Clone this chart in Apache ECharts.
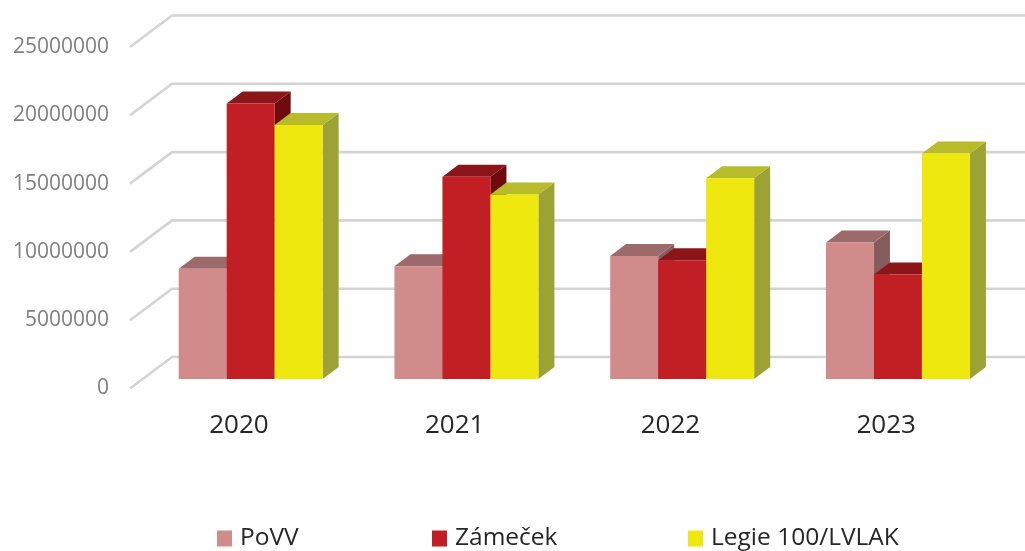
<!DOCTYPE html>
<html>
<head>
<meta charset="utf-8">
<style>
    html, body { margin: 0; padding: 0; background: #fff; }
    #main { width: 1025px; height: 551px; }
</style>
<script src="https://cdn.jsdelivr.net/npm/echarts@6/dist/echarts.min.js"></script>
</head>
<body>
<div id="main"></div>
<script>
var categories = ['2020', '2021', '2022', '2023'];
var povv = [8080000, 8250000, 9000000, 10000000];
var zamecek = [20170000, 14800000, 8700000, 7650000];
var legie = [18600000, 13500000, 14700000, 16500000];
var yTicks = [0, 5000000, 10000000, 15000000, 20000000, 25000000];

var chart = echarts.init(document.getElementById('main'));

// fake 3D: floor goes back by this much, bars stand part way in
var floorDepth = [42, -31.5];
var barInset = [11.8, -9.5];
var barDepth = [16, -12];
var barShare = 0.2224;

function quad(a, b, c, d, color) {
    return {
        type: 'polygon',
        shape: { points: [a, b, c, d] },
        style: { fill: color }
    };
}

function barItem(order, front, top, side) {
    return function (params, api) {
        var band = api.size([1, 0])[0];
        var w = band * barShare;
        var base = api.coord([api.value(0), 0]);
        var head = api.coord([api.value(0), api.value(1)]);
        var x0 = base[0] + barInset[0] + (order - 1.5) * w;
        var x1 = x0 + w;
        var y0 = base[1] + barInset[1];
        var y1 = head[1] + barInset[1];
        var dx = barDepth[0];
        var dy = barDepth[1];
        return {
            type: 'group',
            children: [
                quad([x1, y0], [x1 + dx, y0 + dy], [x1 + dx, y1 + dy], [x1, y1], side),
                quad([x0, y1], [x1, y1], [x1 + dx, y1 + dy], [x0 + dx, y1 + dy], top),
                quad([x0, y0], [x1, y0], [x1, y1], [x0, y1], front)
            ]
        };
    };
}

function gridItem(params, api) {
    var box = params.coordSys;
    var y = api.coord([0, api.value(1)])[1];
    return {
        type: 'polyline',
        shape: {
            points: [
                [box.x - 1, y],
                [box.x - 1 + floorDepth[0], y + floorDepth[1]],
                [box.x + box.width + floorDepth[0], y + floorDepth[1]]
            ]
        },
        style: { fill: null, stroke: '#d4d4d4', lineWidth: 2.6 }
    };
}

function toPairs(values) {
    return values.map(function (v, i) {
        return [i, v];
    });
}

function barSeries(name, values, order, front, top, side) {
    return {
        name: name,
        type: 'custom',
        renderItem: barItem(order, front, top, side),
        itemStyle: { color: front },
        encode: { x: 0, y: 1 },
        z: 3 + order,
        data: toPairs(values)
    };
}

function legendAt(name, left) {
    return {
        data: [name],
        left: left,
        top: 526,
        icon: 'rect',
        itemWidth: 15,
        itemHeight: 16,
        itemGap: 0,
        padding: 0,
        selectedMode: false,
        textStyle: { fontFamily: 'Open Sans', fontSize: 24.5, color: '#262626', padding: [0, 0, 0, 3] }
    };
}

var option = {
    animation: false,
    backgroundColor: '#fff',
    legend: [
        legendAt('PoVV', 217),
        legendAt('Zámeček', 432),
        legendAt('Legie 100/LVLAK', 688)
    ],
    grid: { left: 131, right: 31, top: 47, bottom: 162.5 },
    xAxis: {
        type: 'category',
        data: categories,
        axisLine: { show: false },
        axisTick: { show: false },
        axisLabel: { margin: 24, color: '#262626', fontFamily: 'Open Sans', fontSize: 26 }
    },
    yAxis: {
        type: 'value',
        min: 0,
        max: 25000000,
        interval: 5000000,
        axisLine: { show: false },
        axisTick: { show: false },
        splitLine: { show: false },
        axisLabel: {
            margin: 22,
            color: '#7f7f7f',
            fontFamily: 'Open Sans',
            fontSize: 21,
            padding: [1, 0, 0, 0],
            formatter: function (v) {
                return String(v);
            }
        }
    },
    series: [
        {
            type: 'custom',
            renderItem: gridItem,
            encode: { x: 0, y: 1 },
            silent: true,
            z: 1,
            data: yTicks.map(function (v) {
                return [0, v];
            })
        },
        barSeries('PoVV', povv, 0, '#d18b8a', '#9c6a6a', '#855c5c'),
        barSeries('Zámeček', zamecek, 1, '#c21f24', '#8b1518', '#6e0b0d'),
        barSeries('Legie 100/LVLAK', legie, 2, '#efe80e', '#b8bc2a', '#9ca233')
    ]
};

chart.setOption(option);
window.addEventListener('resize', function () {
    chart.resize();
});
</script>
</body>
</html>
